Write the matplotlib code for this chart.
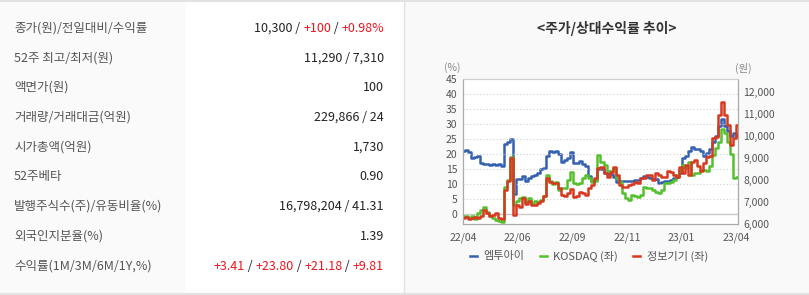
import matplotlib
matplotlib.use("Agg")
from matplotlib import pyplot as plt
from matplotlib.patches import Rectangle

plt.rcParams['font.family'] = ['Noto Sans CJK KR', 'DejaVu Sans']

# table
row_labels = ["종가(원)/전일대비/수익률", "52주 최고/최저(원)", "액면가(원)",
              "거래량/거래대금(억원)", "시가총액(억원)", "52주베타",
              "발행주식수(주)/유동비율(%)", "외국인지분율(%)",
              "수익률(1M/3M/6M/1Y,%)"]
# each value is a list of (text, is_red) pieces
row_values = [
    [("10,300 / ", False), ("+100", True), (" / ", False), ("+0.98%", True)],
    [("11,290 / 7,310", False)],
    [("100", False)],
    [("229,866 / 24", False)],
    [("1,730", False)],
    [("0.90", False)],
    [("16,798,204 / 41.31", False)],
    [("1.39", False)],
    [("+3.41", True), (" / ", False), ("+23.80", True), (" / ", False),
     ("+21.18", True), (" / ", False), ("+9.81", True)],
]

# chart series, sampled along 22/04 .. 23/04
price = [9318, 9350, 9270, 9015, 9060, 9090, 8760, 8700, 8730, 8680,
         8720, 8690, 8730, 8640, 9640, 9700, 9850, 7350, 8050, 8060,
         8180, 7960, 8100, 8180, 8200, 8330, 8480, 8560, 9100, 9320,
         9280, 9320, 9170, 8820, 8900, 9000, 9270, 8760, 8780, 8860,
         8712, 8650, 8180, 7955, 8000, 8480, 8500, 8333, 8260, 8280,
         8110, 7910, 7930, 7955, 7960, 7950, 7960, 8000, 8010, 8100,
         8180, 8150, 8106, 8030, 8030, 7880, 7900, 7955, 7960, 8000,
         8106, 8110, 8333, 9015, 9090, 9318, 9470, 9393, 9390, 9318,
         9090, 9200, 9393, 9697, 10000, 10454, 10757, 10454, 10200, 10000,
         10120, 10000]
kosdaq = [-0.8, -0.5, -1.2, -0.7, -1.5, 0.3, 1.5, 2.2, 0.8, -0.6,
          -1.4, -2.0, -2.2, -2.7, 9.0, 11.5, 19.0, 3.0, 4.5, 5.5,
          5.8, 4.0, 5.5, 3.5, 4.2, 4.0, 4.8, 6.0, 12.9, 11.0,
          10.0, 10.8, 8.0, 8.6, 8.8, 11.4, 14.0, 10.3, 10.0, 10.5,
          12.0, 13.0, 12.0, 10.8, 11.0, 19.7, 17.5, 16.4, 14.2, 14.5,
          15.2, 12.0, 10.8, 6.9, 5.5, 4.7, 6.3, 6.0, 5.8, 6.2,
          9.1, 8.6, 8.6, 8.0, 7.5, 6.9, 8.0, 10.3, 10.3, 10.8,
          11.5, 13.0, 14.7, 16.4, 15.2, 17.4, 13.0, 13.6, 13.6, 14.7,
          14.7, 14.2, 16.0, 19.7, 22.0, 24.1, 28.3, 27.0, 24.0, 20.0,
          12.0, 12.5]
sector = [-1.4, -1.0, -1.6, -1.2, -1.0, -1.3, -0.8, 1.3, 0.2, -0.5,
          -0.2, 0.4, -1.2, -1.6, 8.0, 11.0, 18.6, -0.3, 3.0, 2.4,
          5.2, 3.3, 4.4, 3.0, 3.0, 3.6, 4.5, 6.0, 11.9, 10.8,
          10.5, 10.2, 8.6, 6.3, 6.0, 6.9, 8.5, 5.8, 6.0, 7.4,
          7.0, 6.5, 8.6, 9.7, 12.0, 15.2, 15.8, 13.6, 12.5, 14.0,
          15.8, 13.0, 9.7, 9.1, 9.0, 9.7, 10.0, 10.6, 10.4, 12.0,
          12.0, 13.0, 13.0, 11.4, 13.6, 13.0, 12.5, 12.5, 14.2, 14.0,
          13.0, 12.5, 15.8, 13.6, 16.4, 13.0, 17.4, 18.0, 16.0, 14.2,
          16.9, 19.1, 19.5, 25.2, 25.8, 33.0, 37.4, 33.0, 29.7, 23.0,
          25.2, 29.8]
x_labels = ["22/04", "22/06", "22/09", "22/11", "23/01", "23/04"]
pct_ticks = [0, 5, 10, 15, 20, 25, 30, 35, 40, 45]
price_ticks = [6000, 7000, 8000, 9000, 10000, 11000, 12000]

W, H = 809, 295
fig = plt.figure(figsize=(W / 100, H / 100), dpi=100)
fig.patch.set_facecolor("white")


def fx(px):
    return px / W


def fy(py):
    return 1 - py / H


# full-figure axes for the panels and the table, in pixel units
bg = fig.add_axes([0, 0, 1, 1], zorder=-1)
bg.set_xlim(0, W)
bg.set_ylim(H, 0)
bg.axis("off")
bg.add_patch(Rectangle((0, 1), 186, 292, color="#fafafa", lw=0))
bg.add_patch(Rectangle((404, 1), W - 404, 292, color="#f9f9f9", lw=0))
bg.plot([404, 404], [0, 293], color="#e2e2e2", lw=1)
bg.plot([0, W], [0.6, 0.6], color="#e2e2e2", lw=1.5)
bg.plot([0, W], [293.6, 293.6], color="#e2e2e2", lw=1.5)

RED = "#f0141e"
row_y0, row_step = 28, 29.75
for i, (label, pieces) in enumerate(zip(row_labels, row_values)):
    y = row_y0 + i * row_step
    bg.text(14, y, label, ha="left", va="center", fontsize=9, color="#555555")
    prev = None
    for text, red in reversed(pieces):
        c = RED if red else "#222222"
        if prev is None:
            prev = bg.text(384, y, text, ha="right", va="center",
                           fontsize=9, color=c)
        else:
            prev = bg.annotate(text, xy=(0, 0), xycoords=prev, ha="right",
                               va="bottom", fontsize=9, color=c)

bg.text(607, 28, "<주가/상대수익률 추이>", ha="center", va="center",
        fontsize=10, fontweight="bold", color="#333333")
bg.text(452, 68, "(%)", ha="center", va="center", fontsize=7.5, color="#888888")
bg.text(743, 68, "(원)", ha="center", va="center", fontsize=7.5, color="#888888")

# chart: price on the right axis, drawn below the relative-return lines
ax_p = fig.add_axes([fx(463), fy(224), fx(738) - fx(463), fy(79) - fy(224)])
ax_p.set_facecolor("white")
ax_c = ax_p.twinx()

xs = list(range(len(price)))
ax_p.plot(xs, price, color="#3560b0", lw=1.8, drawstyle="steps-mid",
          label="엠투아이")
ax_p.set_ylim(6000, 12576)
ax_p.set_xlim(0, len(price) - 1)
ax_p.yaxis.tick_right()
ax_p.yaxis.set_label_position("right")
ax_p.set_yticks(price_ticks)
ax_p.set_yticklabels([f"{v:,}" for v in price_ticks])

ax_c.plot(xs, kosdaq, color="#55c02e", lw=1.8, drawstyle="steps-mid",
          label="KOSDAQ (좌)")
ax_c.plot(xs, sector, color="#d6391f", lw=1.8, drawstyle="steps-mid",
          label="정보기기 (좌)")
ax_c.set_ylim(-3.33, 45)
ax_c.yaxis.tick_left()
ax_c.yaxis.set_label_position("left")
ax_c.set_yticks(pct_ticks)
for v in pct_ticks[1:-1]:
    ax_c.axhline(v, color="#cfcfcf", lw=0.8, ls=(0, (1, 2)), zorder=0)
ax_c.axhline(0, color="#c8c8c8", lw=1, zorder=0)

n = len(price) - 1
ax_p.set_xticks([n * k / 5 * 0.993 for k in range(6)])
ax_p.set_xticklabels(x_labels)

for a in (ax_p, ax_c):
    a.tick_params(length=0, labelsize=7.5, colors="#555555", pad=4)
    for s in a.spines.values():
        s.set_color("#aaaaaa")
        s.set_linewidth(0.8)
    a.spines["top"].set_color("#d0d0d0")
ax_p.tick_params(axis="x", pad=6)

handles = ax_p.get_lines() + ax_c.get_lines()[:2]
fig.legend(handles, [h.get_label() for h in handles], ncol=3,
           loc="center", bbox_to_anchor=(fx(589), fy(256)), frameon=False,
           fontsize=8, handlelength=0.6, handletextpad=0.6,
           columnspacing=1.4, labelcolor="#555555")

fig.savefig("out.png", dpi=100, facecolor=fig.get_facecolor())
